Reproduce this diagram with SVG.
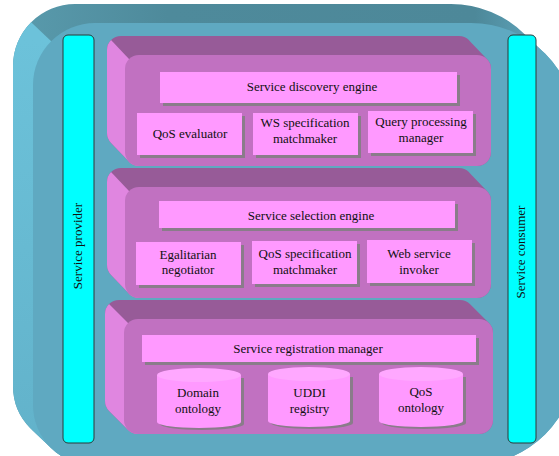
<svg xmlns="http://www.w3.org/2000/svg" width="559" height="456" viewBox="0 0 559 456" font-family="Liberation Serif, serif">
<defs>
<style>
text{font-size:13px;fill:#111;text-anchor:middle}
.tDark{fill:url(#tealTop)}
.tLight{fill:url(#tealLeft)}
.tFace{fill:#5fa9c1}
.pDark{fill:#975b98}
.pLight{fill:#e086e0}
.pFace{fill:#c171c1}
.box{fill:#ff99ff}
.shadow{fill:#8a7c8a}
.cylTop{fill:#ffa8ff}
.bar{fill:#00ffff;stroke:#2a3a3a;stroke-width:1}
</style>
<linearGradient id="tealTop" gradientUnits="userSpaceOnUse" x1="0" y1="0" x2="559" y2="0">
<stop offset="0" stop-color="#5a9cae"/>
<stop offset="0.3" stop-color="#4e8a9b"/>
<stop offset="0.85" stop-color="#4d8899"/>
<stop offset="0.97" stop-color="#5fa6bd"/>
</linearGradient>
<linearGradient id="tealLeft" gradientUnits="userSpaceOnUse" x1="0" y1="40" x2="0" y2="456">
<stop offset="0" stop-color="#6cc2da"/>
<stop offset="1" stop-color="#62b2ca"/>
</linearGradient>
<clipPath id="clipTeal">
<path d="M75,4 H451 A105,105 0 0 1 556,109 V341 A105,105 0 0 1 451,446 H73 A60,60 0 0 1 13,386 V66 A62,62 0 0 1 75,4 Z"/>
<path d="M95,23 H471 A105,105 0 0 1 576,128 V360 A105,105 0 0 1 471,465 H93 A60,60 0 0 1 33,405 V85 A62,62 0 0 1 95,23 Z"/>
<polygon points="525.25,34.75 545.25,53.75 50.57,447.43 30.57,428.43"/>
</clipPath>
<clipPath id="clipL1">
<rect x="107" y="36" width="366" height="111" rx="14"/>
<rect x="125" y="55" width="366" height="111" rx="14"/>
<polygon points="468.9,40.1 486.9,59.1 129.1,161.9 111.1,142.9"/>
</clipPath>
<clipPath id="clipL2">
<rect x="107" y="168" width="366" height="111" rx="14"/>
<rect x="125" y="187" width="366" height="111" rx="14"/>
<polygon points="468.9,172.1 486.9,191.1 129.1,293.9 111.1,274.9"/>
</clipPath>
<clipPath id="clipL3">
<rect x="105" y="300" width="369" height="115" rx="14"/>
<rect x="124" y="319" width="369" height="115" rx="14"/>
<polygon points="469.9,304.1 488.9,323.1 128.1,429.9 109.1,410.9"/>
</clipPath>
</defs>

<g id="frame">
<g clip-path="url(#clipTeal)">
<rect class="tDark" x="0" y="0" width="600" height="480"/>
<polygon class="tLight" points="-48.84,-53.84 851,801 -800,801"/>
</g>
<path class="tFace" d="M95,23 H471 A105,105 0 0 1 576,128 V360 A105,105 0 0 1 471,465 H93 A60,60 0 0 1 33,405 V85 A62,62 0 0 1 95,23 Z"/>
</g>

<g id="service-provider">
<rect class="bar" x="63" y="35" width="31" height="408" rx="5"/>
<text transform="translate(82,246) rotate(-90)">Service provider</text>
</g>
<g id="service-consumer">
<rect class="bar" x="508" y="35" width="28" height="408" rx="5"/>
<text transform="translate(525,252) rotate(-90)">Service consumer</text>
</g>

<g id="layer-discovery">
<g clip-path="url(#clipL1)">
<rect class="pDark" x="100" y="30" width="400" height="140"/>
<polygon class="pLight" points="75.1,2.1 669.1,629.1 -300,600"/>
</g>
<rect class="pFace" x="125" y="55" width="366" height="111" rx="14"/>
</g>
<g id="service-discovery-engine">
<rect class="shadow" x="163" y="75" width="297" height="31"/>
<rect class="box" x="160" y="72" width="297" height="31"/>
<text x="312" y="91">Service discovery engine</text>
</g>
<g id="qos-evaluator">
<rect class="shadow" x="140" y="116" width="105" height="42"/>
<rect class="box" x="137" y="113" width="105" height="42"/>
<text x="190" y="138">QoS evaluator</text>
</g>
<g id="ws-specification-matchmaker">
<rect class="shadow" x="256" y="116" width="105" height="42"/>
<rect class="box" x="253" y="113" width="105" height="42"/>
<text x="305" y="127">WS specification</text>
<text x="305" y="143">matchmaker</text>
</g>
<g id="query-processing-manager">
<rect class="shadow" x="371" y="114" width="105" height="42"/>
<rect class="box" x="368" y="111" width="105" height="42"/>
<text x="421" y="126">Query processing</text>
<text x="421" y="142">manager</text>
</g>

<g id="layer-selection">
<g clip-path="url(#clipL2)">
<rect class="pDark" x="100" y="160" width="400" height="145"/>
<polygon class="pLight" points="75.1,134.1 669.1,761.1 -300,732"/>
</g>
<rect class="pFace" x="125" y="187" width="366" height="111" rx="14"/>
</g>
<g id="service-selection-engine">
<rect class="shadow" x="162" y="204" width="296" height="27"/>
<rect class="box" x="159" y="201" width="296" height="27"/>
<text x="311" y="220">Service selection engine</text>
</g>
<g id="egalitarian-negotiator">
<rect class="shadow" x="139" y="245" width="105" height="43"/>
<rect class="box" x="136" y="242" width="105" height="43"/>
<text x="188" y="259">Egalitarian</text>
<text x="188" y="274">negotiator</text>
</g>
<g id="qos-specification-matchmaker">
<rect class="shadow" x="255" y="244" width="105" height="43"/>
<rect class="box" x="252" y="241" width="105" height="43"/>
<text x="305" y="258">QoS specification</text>
<text x="305" y="274">matchmaker</text>
</g>
<g id="web-service-invoker">
<rect class="shadow" x="370" y="243" width="105" height="43"/>
<rect class="box" x="367" y="240" width="105" height="43"/>
<text x="419" y="258">Web service</text>
<text x="419" y="274">invoker</text>
</g>

<g id="layer-registration">
<g clip-path="url(#clipL3)">
<rect class="pDark" x="100" y="295" width="400" height="145"/>
<polygon class="pLight" points="71.1,266.1 698.1,893.1 -300,864"/>
</g>
<rect class="pFace" x="124" y="319" width="369" height="115" rx="14"/>
</g>
<g id="service-registration-manager">
<rect class="shadow" x="145" y="338" width="334" height="27"/>
<rect class="box" x="142" y="335" width="334" height="27"/>
<text x="308" y="353">Service registration manager</text>
</g>
<g id="domain-ontology">
<path class="shadow" d="M160,378 V424 A42,6 0 0 0 244,424 V378 Z"/>
<path class="box" d="M157,375 V422 A42,6 0 0 0 241,422 V375 Z"/>
<ellipse class="cylTop" cx="199" cy="375" rx="42" ry="7"/>
<text x="198" y="397">Domain</text>
<text x="198" y="413">ontology</text>
</g>
<g id="uddi-registry">
<path class="shadow" d="M271,377 V423 A41,6 0 0 0 353,423 V377 Z"/>
<path class="box" d="M268,374 V421 A41,6 0 0 0 350,421 V374 Z"/>
<ellipse class="cylTop" cx="309" cy="374" rx="41" ry="7"/>
<text x="309.5" y="397">UDDI</text>
<text x="309.5" y="413">registry</text>
</g>
<g id="qos-ontology">
<path class="shadow" d="M382,377 V423 A42,6 0 0 0 466,423 V377 Z"/>
<path class="box" d="M379,374 V421 A42,6 0 0 0 463,421 V374 Z"/>
<ellipse class="cylTop" cx="421" cy="374" rx="42" ry="7"/>
<text x="421" y="396">QoS</text>
<text x="421" y="412">ontology</text>
</g>
</svg>
